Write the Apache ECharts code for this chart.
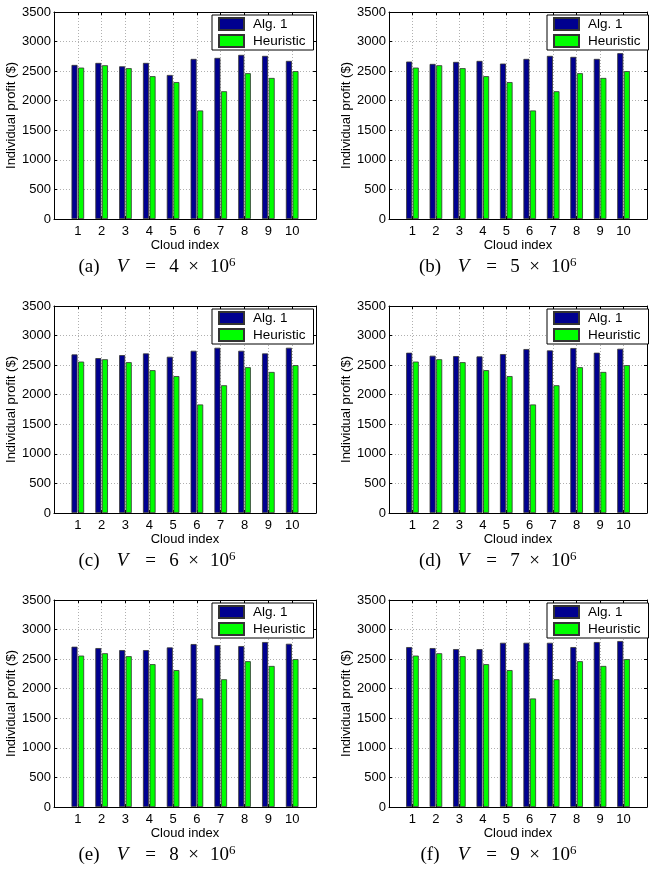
<!DOCTYPE html>
<html>
<head>
<meta charset="utf-8">
<script src="https://cdn.jsdelivr.net/npm/echarts@6/dist/echarts.min.js"></script>
<style>
html,body{margin:0;padding:0;background:#fff;}
#chart{width:650px;height:869px;}
</style>
</head>
<body>
<div id="chart"></div>
<script>
// ---- data ----
var cloudIndex = [1, 2, 3, 4, 5, 6, 7, 8, 9, 10];
var heuristic = [2560, 2600, 2550, 2415, 2315, 1835, 2160, 2465, 2385, 2500];
var alg1_V4 = [2605, 2639, 2582, 2639, 2435, 2707, 2724, 2775, 2758, 2673];
var alg1_V5 = [2662, 2622, 2656, 2673, 2628, 2707, 2758, 2741, 2707, 2803];
var alg1_V6 = [2681, 2619, 2670, 2698, 2642, 2743, 2794, 2743, 2698, 2794];
var alg1_V7 = [2710, 2659, 2653, 2647, 2687, 2772, 2749, 2789, 2710, 2777];
var alg1_V8 = [2710, 2687, 2653, 2653, 2698, 2755, 2738, 2721, 2789, 2760];
var alg1_V9 = [2704, 2687, 2670, 2670, 2777, 2777, 2777, 2704, 2789, 2806];
var panelLetters = ['a', 'b', 'c', 'd', 'e', 'f'];
var panelV = ['4', '5', '6', '7', '8', '9'];
var yTicks = [0, 500, 1000, 1500, 2000, 2500, 3000, 3500];
var seriesNames = ['Alg. 1', 'Heuristic'];
var xLabel = 'Cloud index';
var yLabel = 'Individual profit ($)';

var algSets = [alg1_V4, alg1_V5, alg1_V6, alg1_V7, alg1_V8, alg1_V9];

// ---- layout ----
var colLeft = [54, 389];
var rowTop = [12, 306, 600];
var capLeft = [69, 410];
var gw = 262, gh = 207;
var SANS = 'Liberation Sans, Arial, Helvetica, sans-serif';
var SERIF = 'Liberation Serif, Times New Roman, serif';

var grids = [], xAxes = [], yAxes = [], series = [], legends = [], titles = [];

function cap(w, extra) {
  var o = {fontFamily: SERIF, fontSize: 19, fontWeight: 'normal', color: '#000', align: 'center'};
  if (w) o.width = w;
  if (extra) for (var k in extra) o[k] = extra[k];
  return o;
}

for (var p = 0; p < 6; p++) {
  var col = p % 2, row = Math.floor(p / 2);
  var L = colLeft[col], T = rowTop[row];
  grids.push({left: L, top: T, width: gw, height: gh, containLabel: false});
  var xi = xAxes.length;
  xAxes.push({
    type: 'value', gridIndex: p, min: 0, max: 11, interval: 1,
    name: xLabel, nameLocation: 'middle', nameGap: 18,
    nameTextStyle: {fontFamily: SANS, fontSize: 13, color: '#000'},
    axisLine: {show: true, lineStyle: {color: '#000', width: 1}},
    axisTick: {show: true, inside: true, length: 3, lineStyle: {color: '#000'}},
    axisLabel: {show: true, margin: 6, fontFamily: SANS, fontSize: 13, color: '#000',
      formatter: function (v) { return (v >= 1 && v <= 10) ? String(v) : ''; }},
    splitLine: {show: true, lineStyle: {color: '#b0b0b0', type: [1, 2], width: 1}}
  });
  xAxes.push({
    type: 'value', gridIndex: p, min: 0, max: 11, interval: 1, position: 'top',
    axisLine: {show: true, onZero: false, lineStyle: {color: '#000', width: 1}},
    axisTick: {show: true, inside: true, length: 3, lineStyle: {color: '#000'}},
    axisLabel: {show: false}, splitLine: {show: false}
  });
  var yi = yAxes.length;
  yAxes.push({
    type: 'value', gridIndex: p, min: yTicks[0], max: yTicks[yTicks.length - 1], interval: 500,
    name: yLabel, nameLocation: 'middle', nameGap: 31, nameRotate: 90,
    nameTextStyle: {fontFamily: SANS, fontSize: 13, color: '#000'},
    axisLine: {show: true, lineStyle: {color: '#000', width: 1}},
    axisTick: {show: true, inside: true, length: 3, lineStyle: {color: '#000'}},
    axisLabel: {show: true, margin: 3, fontFamily: SANS, fontSize: 13, color: '#000',
      formatter: function (v) { return String(v); }},
    splitLine: {show: true, lineStyle: {color: '#b0b0b0', type: [1, 2], width: 1}}
  });
  yAxes.push({
    type: 'value', gridIndex: p, min: 0, max: 3500, interval: 500, position: 'right',
    axisLine: {show: true, onZero: false, lineStyle: {color: '#000', width: 1}},
    axisTick: {show: true, inside: true, length: 3, lineStyle: {color: '#000'}},
    axisLabel: {show: false}, splitLine: {show: false}
  });
  var algData = cloudIndex.map(function (c, i) { return [c, algSets[p][i]]; });
  var heuData = cloudIndex.map(function (c, i) { return [c, heuristic[i]]; });
  series.push({
    name: seriesNames[0], type: 'bar', xAxisIndex: xi, yAxisIndex: yi,
    data: algData, barWidth: 6, barGap: '10%',
    itemStyle: {color: '#00008f', borderColor: '#333', borderWidth: 0.8},
    silent: true, animation: false
  });
  series.push({
    name: seriesNames[1], type: 'bar', xAxisIndex: xi, yAxisIndex: yi,
    data: heuData, barWidth: 6, barGap: '10%',
    itemStyle: {color: '#00ff00', borderColor: '#333', borderWidth: 0.8},
    silent: true, animation: false
  });
  legends.push({
    data: seriesNames, orient: 'vertical', left: L + 158, top: T + 3, z: 10,
    backgroundColor: '#fff', borderColor: '#000', borderWidth: 1,
    padding: [2, 8, 2, 6], itemGap: 3, itemWidth: 25, itemHeight: 12, icon: 'rect',
    selectedMode: false,
    textStyle: {fontFamily: SANS, fontSize: 13.5, color: '#000', padding: [0, 0, 0, 4]}
  });
  titles.push({
    text: '{a|(' + panelLetters[p] + ')}{v|V}{e|=}{d|' + panelV[p] + '}{x|×}{g| }{t|10}{s|6}',
    left: capLeft[col], top: T + 239,
    textStyle: {
      fontWeight: 'normal',
      rich: {
        a: cap(30),
        v: cap(37, {fontStyle: 'italic'}),
        e: cap(19),
        d: cap(28),
        x: cap(11),
        g: cap(11),
        t: cap(0, {align: 'left'}),
        s: cap(0, {fontSize: 13, align: 'left', verticalAlign: 'top', padding: [0, 0, 9, 0]})
      }
    }
  });
}

var chart = echarts.init(document.getElementById('chart'), null, {renderer: 'canvas'});
chart.setOption({
  animation: false,
  backgroundColor: '#fff',
  title: titles,
  legend: legends,
  grid: grids,
  xAxis: xAxes,
  yAxis: yAxes,
  series: series
});
</script>
</body>
</html>
